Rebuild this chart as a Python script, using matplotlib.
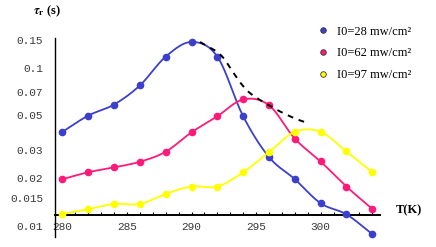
import numpy as np
import matplotlib
matplotlib.use("Agg")
import matplotlib.pyplot as plt
from matplotlib.lines import Line2D

plt.rcParams["mathtext.fontset"] = "stix"

# temperature (K) and rise time tau_r (s) for the three intensities
T = [280, 282, 284, 286, 288, 290, 292, 294, 296, 298, 300, 302, 304]
tau_28 = [0.0393, 0.0498, 0.0585, 0.0773, 0.1176, 0.1456, 0.1176,
          0.0493, 0.0272, 0.0197, 0.01387, 0.0118, 0.00885]
tau_62 = [0.0197, 0.0218, 0.0234, 0.0254, 0.0294, 0.0390, 0.0493,
          0.0630, 0.0579, 0.0356, 0.0255, 0.0177, 0.01277]
tau_97 = [0.01186, 0.0127, 0.01374, 0.01374, 0.0159, 0.0177, 0.0177,
          0.0218, 0.0292, 0.0393, 0.0393, 0.0295, 0.0218]

# dashed envelope over the maxima
env_T = [290.66, 292.21, 293.24, 293.89, 294.67, 296.34, 297.89, 299.05]
env_tau = [0.1456, 0.1216, 0.0931, 0.0784, 0.0677, 0.0557, 0.0482, 0.0445]

labels = ["I0=28 mw/cm²", "I0=62 mw/cm²", "I0=97 mw/cm²"]
colors = ["#3b3fcc", "#ff1a7a", "#ffff00"]
xticks = [280, 285, 290, 295, 300]
yticks = [0.01, 0.015, 0.02, 0.03, 0.05, 0.07, 0.1, 0.15]
ytick_labels = ["0.01", "0.015", "0.02", "0.03", "0.05", "0.07", "0.1", "0.15"]


def smooth(x, y, n=24):
    """Catmull-Rom through the points, in log-y space."""
    pts = np.column_stack([np.asarray(x, float), np.log(np.asarray(y, float))])
    p = np.vstack([2 * pts[0] - pts[1], pts, 2 * pts[-1] - pts[-2]])
    t = np.linspace(0, 1, n, endpoint=False)[:, None]
    out = []
    for i in range(1, len(p) - 2):
        p0, p1, p2, p3 = p[i - 1], p[i], p[i + 1], p[i + 2]
        out.append(0.5 * (2 * p1 + (-p0 + p2) * t
                          + (2 * p0 - 5 * p1 + 4 * p2 - p3) * t ** 2
                          + (-p0 + 3 * p1 - 3 * p2 + p3) * t ** 3))
    out.append(pts[-1:])
    arr = np.vstack(out)
    return arr[:, 0], np.exp(arr[:, 1])


fig = plt.figure(figsize=(4.36, 2.47), dpi=100)
ax = fig.add_axes([0.1261, 0.0405, 0.7454, 0.8069])
ax.set_yscale("log")
ax.set_xlim(279.42, 304.6)
ax.set_ylim(0.00848, 0.155)

for y, c in zip([tau_28, tau_62, tau_97], colors):
    sx, sy = smooth(T, y)
    ax.plot(sx, sy, color=c, lw=1.3, zorder=3, clip_on=False)
    ax.plot(T, y, "o", color=c, ms=4.5, mec=c, zorder=4, clip_on=False)

ex, ey = smooth(env_T, env_tau)
ax.plot(ex, ey, color="black", lw=1.4, ls=(0, (3, 3)), zorder=5)

for s in ["top", "right"]:
    ax.spines[s].set_visible(False)
ax.spines["bottom"].set_position(("data", 0.0117))
ax.spines["bottom"].set_linewidth(1.4)
ax.spines["left"].set_linewidth(1.0)

ax.set_yticks(yticks)
ax.set_yticklabels(ytick_labels)
ax.yaxis.set_minor_locator(matplotlib.ticker.NullLocator())
ax.tick_params(axis="y", length=0, pad=8.6, labelsize=8, labelcolor="#3a3a3a")
for lab in ax.get_yticklabels():
    lab.set_family("Liberation Mono")

ax.set_xticks(xticks)
ax.set_xticks(np.arange(280, 305, 1), minor=True)
ax.tick_params(axis="x", which="both", direction="in", length=2.5, width=0.8,
               pad=5, labelsize=8, labelcolor="#3a3a3a")
for lab in ax.get_xticklabels():
    lab.set_family("Liberation Mono")

handles = [Line2D([], [], ls="none", marker="o", ms=4, mfc=c, mec="#333333", mew=0.6)
           for c in colors]
ax.legend(handles, labels, loc="upper left", bbox_to_anchor=(0.795, 1.085),
          frameon=False, handlelength=0.8, handletextpad=0.7, labelspacing=0.77,
          borderaxespad=0, prop={"family": "Liberation Serif", "size": 9})

fig.text(33 / 436, 1 - 11.7 / 247, r"$\boldsymbol{\tau}_{\mathbf{r}}$ (s)",
         fontsize=9, fontweight="bold", family="Liberation Serif", va="center")
fig.text(396 / 436, 1 - 210.7 / 247, "T(K)", fontsize=9, fontweight="bold",
         family="Liberation Serif", va="center")

fig.savefig("out.png", dpi=100)
